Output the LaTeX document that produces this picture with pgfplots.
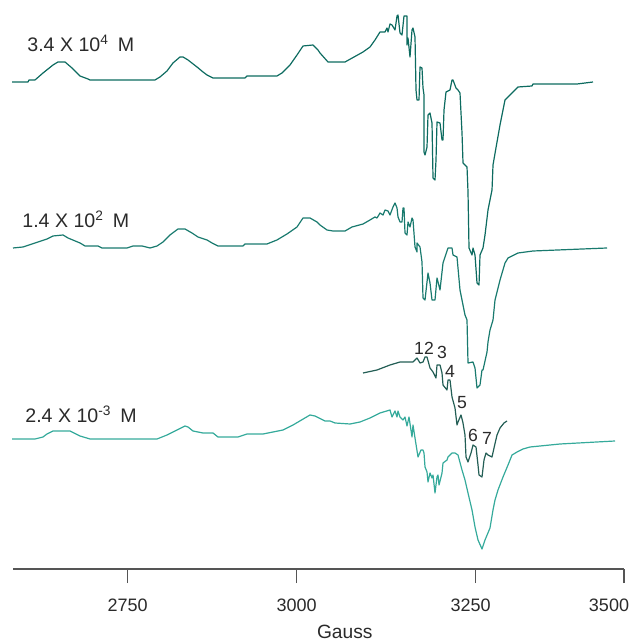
\documentclass[border=0pt]{standalone}
\usepackage{pgfplots}
\pgfplotsset{compat=1.18}
\usepackage{fontspec}
\setmainfont{Liberation Sans}
\definecolor{cTop}{HTML}{0D6B60}
\definecolor{cMid}{HTML}{197A6E}
\definecolor{cBot}{HTML}{35AA9B}
\definecolor{cIns}{HTML}{235E55}
\definecolor{cTxt}{HTML}{2A2A2A}
\definecolor{cAx}{HTML}{555555}
\begin{document}
\begin{tikzpicture}
\begin{axis}[name=ax,
  scale only axis, width=305.5pt, height=284.5pt,
  xmin=13, xmax=624, ymin=-569, ymax=0,
  axis x line=bottom, axis y line=none, clip=false,
  axis line style={draw=cAx, line width=0.6pt, -},
  xtick={127.7,296.7,475.7,624},
  xticklabels={2750,3000,\hspace*{-5pt}3250,\hspace*{-15pt}3500},
  tick align=outside, major tick length=7pt,
  x tick style={draw=cAx, line width=0.6pt},
  xticklabel style={anchor=center, yshift=-11pt, font=\fontsize{9}{10}\selectfont, text=cTxt},
  xlabel={Gauss},
  xlabel style={at={(axis description cs:0.543,0)}, anchor=center, yshift=-31.5pt, font=\fontsize{9.6}{11}\selectfont, text=cTxt},
  every axis plot/.append style={line width=0.6pt, line join=round},
]
% top trace (3.4 x 10^4 M)
\addplot[cTop] coordinates {
(12,-82)(28,-82)(29,-80)(35,-80)(43,-73)(53,-65)(58,-62)(65,-62)(72,-68)(80,-76)(88,-79)(90,-80)(155,-80)(160,-77)(167,-71)(173,-63)(180,-57)(183,-57)(188,-60)(197,-67)(203,-72)(207,-75)(213,-78)(245,-78)(247,-76)(277,-76)(282,-73)(290,-65)(297,-55)(303,-46)(313,-45)(318,-50)(320,-53)(328,-62)(345,-62)(363,-52)(370,-47)(375,-40)(380,-32)(385,-32)(387,-28)(388,-32)(390,-24)(392,-25)(395,-30)(397,-16)(398,-15)(400,-33)(402,-35)(404,-16)(407,-16)(407,-45)(408,-38)(410,-57)(412,-30)(413,-28)(415,-37)(416,-90)(417,-100)(419,-100)(420,-67)(422,-68)(423,-88)(424,-95)(424,-152)(425,-155)(427,-147)(428,-115)(430,-113)(432,-123)(433,-178)(435,-180)(436,-160)(437,-122)(440,-123)(442,-140)(443,-140)(444,-110)(446,-92)(450,-90)(452,-80)(453,-80)(456,-88)(458,-90)(460,-93)(462,-133)(463,-163)(467,-167)(468,-192)(469,-248)(472,-255)(473,-248)(475,-255)(477,-283)(479,-285)(480,-255)(483,-248)(485,-235)(488,-210)(492,-190)(493,-165)(497,-142)(500,-125)(503,-110)(505,-100)(508,-97)(512,-93)(518,-87)(532,-86)(533,-84)(553,-84)(577,-84)(593,-82)
};
% middle trace (1.4 x 10^2 M)
\addplot[cMid] coordinates {
(13,-248)(23,-247)(35,-243)(47,-239)(53,-236)(63,-235)(68,-238)(80,-243)(85,-246)(98,-246)(102,-248)(127,-248)(133,-246)(142,-246)(150,-248)(157,-246)(163,-242)(170,-235)(178,-229)(185,-229)(192,-233)(198,-237)(207,-240)(212,-243)(218,-246)(243,-246)(245,-244)(267,-244)(277,-240)(287,-234)(297,-227)(303,-218)(310,-218)(317,-222)(320,-225)(327,-230)(333,-231)(345,-231)(352,-227)(363,-224)(370,-220)(375,-217)(377,-218)(380,-213)(383,-215)(385,-210)(388,-211)(390,-215)(393,-207)(395,-203)(397,-208)(398,-217)(400,-222)(402,-222)(403,-208)(404,-208)(405,-233)(407,-235)(408,-222)(410,-227)(412,-218)(413,-220)(415,-247)(417,-252)(417,-243)(420,-247)(422,-262)(423,-298)(425,-300)(428,-273)(430,-283)(432,-300)(435,-300)(437,-278)(440,-290)(443,-263)(445,-257)(448,-248)(452,-248)(453,-255)(457,-257)(460,-290)(462,-300)(465,-315)(467,-320)(468,-363)(473,-362)(475,-368)(477,-388)(480,-385)(482,-370)(483,-370)(487,-352)(488,-342)(490,-330)(493,-320)(495,-300)(500,-280)(505,-263)(508,-258)(518,-253)(533,-251)(607,-248)
};
% bottom trace (2.4 x 10^-3 M)
\addplot[cBot] coordinates {
(12,-439)(35,-439)(43,-437)(47,-434)(53,-431)(70,-431)(80,-436)(90,-439)(157,-439)(167,-435)(177,-430)(185,-426)(188,-427)(193,-431)(203,-433)(213,-433)(218,-437)(238,-437)(247,-434)(263,-434)(283,-430)(293,-425)(310,-415)(315,-416)(325,-421)(330,-421)(335,-423)(350,-424)(360,-422)(370,-418)(380,-413)(390,-410)(392,-417)(395,-411)(397,-417)(398,-411)(400,-417)(403,-420)(405,-417)(407,-426)(409,-417)(412,-437)(413,-425)(415,-438)(418,-457)(421,-450)(423,-450)(424,-453)(425,-467)(427,-472)(428,-482)(430,-473)(432,-478)(433,-475)(435,-493)(437,-477)(438,-475)(439,-485)(441,-477)(442,-473)(443,-463)(447,-460)(448,-457)(452,-453)(455,-453)(458,-455)(462,-470)(465,-480)(468,-493)(472,-510)(475,-527)(478,-540)(482,-549)(485,-540)(490,-528)(493,-510)(495,-500)(498,-490)(503,-477)(508,-465)(512,-455)(517,-452)(523,-449)(530,-447)(560,-444)(615,-441)
};
% inset trace with numbered lines
\addplot[cIns] coordinates {
(363,-373)(377,-370)(390,-365)(400,-362)(413,-362)(417,-358)(420,-363)(423,-362)(425,-357)(427,-357)(430,-368)(433,-372)(436,-378)(437,-365)(440,-365)(442,-373)(443,-385)(447,-390)(448,-380)(450,-380)(452,-397)(455,-408)(457,-425)(458,-422)(461,-415)(463,-423)(465,-435)(466,-457)(468,-462)(471,-453)(473,-445)(476,-447)(478,-465)(479,-475)(482,-477)(484,-460)(486,-453)(488,-455)(492,-457)(494,-448)(497,-435)(500,-428)(504,-423)(507,-421)
};
\begin{scope}[every node/.style={text=cTxt, inner sep=0pt, font=\fontsize{9.8}{11}\selectfont}]
\node[anchor=base west] at (axis cs:27,-52) {3.4 X 10\textsuperscript{4}\hspace{0.45em}M};
\node[anchor=base west] at (axis cs:22,-228) {1.4 X 10\textsuperscript{2}\hspace{0.45em}M};
\node[anchor=base west] at (axis cs:25,-423) {2.4 X 10\textsuperscript{-3}\hspace{0.45em}M};
\end{scope}
\begin{scope}[every node/.style={text=cTxt, inner sep=0pt, anchor=center, font=\fontsize{8.8}{10}\selectfont}]
\node at (axis cs:419,-348) {1};
\node at (axis cs:429,-348) {2};
\node at (axis cs:442,-352) {3};
\node at (axis cs:450,-371) {4};
\node at (axis cs:462,-403) {5};
\node at (axis cs:473,-435) {6};
\node at (axis cs:487,-438) {7};
\end{scope}
\end{axis}
\pgfresetboundingbox
\path (ax.south west) ++(-6.5pt,-36pt) rectangle ([xshift=4pt]ax.north east);
\end{tikzpicture}
\end{document}
